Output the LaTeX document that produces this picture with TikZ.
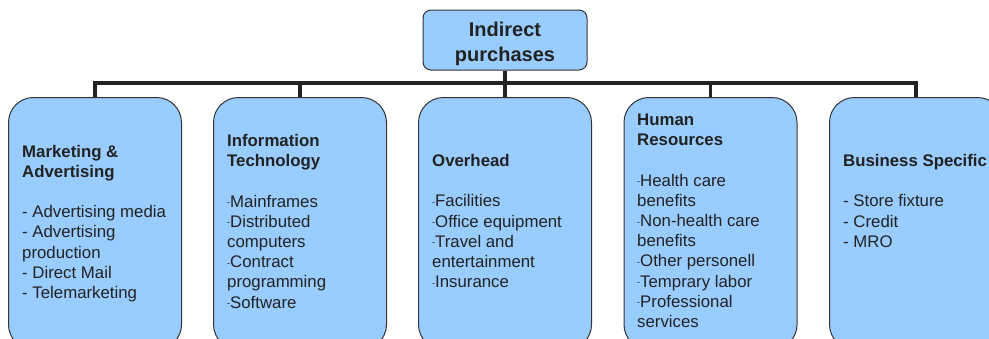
\documentclass[tikz,border=0pt]{standalone}
\usepackage{fontspec}
\setmainfont{Liberation Sans}
\definecolor{boxfill}{HTML}{99CCFF}
\definecolor{boxline}{HTML}{333333}
\definecolor{txt}{HTML}{222222}
\newcommand{\sdash}{\raisebox{1.5pt}{\fontsize{9}{9}\selectfont -}}
\newcommand{\blk}[1]{\parbox[t]{175pt}{\raggedright\fontsize{16.8}{20.2}\selectfont #1}}
\tikzset{
  topbox/.style={draw=boxline, line width=1pt, fill=boxfill, rounded corners=8pt,
    minimum width=164pt, minimum height=60pt, inner sep=0pt},
  catbox/.style={draw=boxline, line width=1pt, fill=boxfill, rounded corners=25pt,
    minimum width=173pt, minimum height=252pt, inner sep=0pt, anchor=north west},
  blocktext/.style={anchor=base west, inner sep=0pt, text=txt},
  conn/.style={draw=txt, line width=3.2pt}
}
\begin{document}
\begin{tikzpicture}[x=1pt,y=-1pt]
\useasboundingbox (0,0) rectangle (989,338);
\clip (0,0) rectangle (989,338);
% boxes
\node[topbox] (top) at (505,40) {};
\node[anchor=base, inner sep=0pt, text=txt, align=center,
  font=\fontsize{20}{25.5}\selectfont\bfseries] (toptext) at (505,61.5) {Indirect\\purchases};
\node[catbox] (c1) at (8,97) {};
\node[catbox] (c2) at (213,97) {};
\node[catbox] (c3) at (418,97) {};
\node[catbox] (c4) at (623.5,97) {};
\node[catbox] (c5) at (829,97) {};
% connectors
\coordinate (bar) at (0,83);
\draw[conn] (top.south) -- (top.south |- bar);
\draw[conn, line cap=rect] (c1.north |- bar) -- (c5.north |- bar);
\foreach \i in {1,...,5} { \draw[conn] (c\i.north |- bar) -- (c\i.north); }
% texts
\node[blocktext] (t1) at (22,157) {\blk{\bfseries Marketing \&\\ Advertising\\[20.2pt]\mdseries
- Advertising media\\ - Advertising\\ production\\ - Direct Mail\\ - Telemarketing}};
\node[blocktext] (t2) at (227,146.5) {\blk{\bfseries Information\\ Technology\\[20.2pt]\mdseries
\sdash Mainframes\\ \sdash Distributed\\ computers\\ \sdash Contract\\ programming\\ \sdash Software}};
\node[blocktext] (t3) at (432,166.5) {\blk{\bfseries Overhead\\[20.2pt]\mdseries
\sdash Facilities\\ \sdash Office equipment\\ \sdash Travel and\\ entertainment\\ \sdash Insurance}};
\node[blocktext] (t4) at (637,125.5) {\blk{\bfseries Human\\ Resources\\[20.2pt]\mdseries
\sdash Health care\\ benefits\\ \sdash Non-health care\\ benefits\\ \sdash Other personell\\ \sdash Temprary labor\\ \sdash Professional\\ services}};
\node[blocktext] (t5) at (843,166.5) {\blk{\bfseries Business Specific\\[20.2pt]\mdseries
- Store fixture\\ - Credit\\ - MRO}};
\end{tikzpicture}
\end{document}
